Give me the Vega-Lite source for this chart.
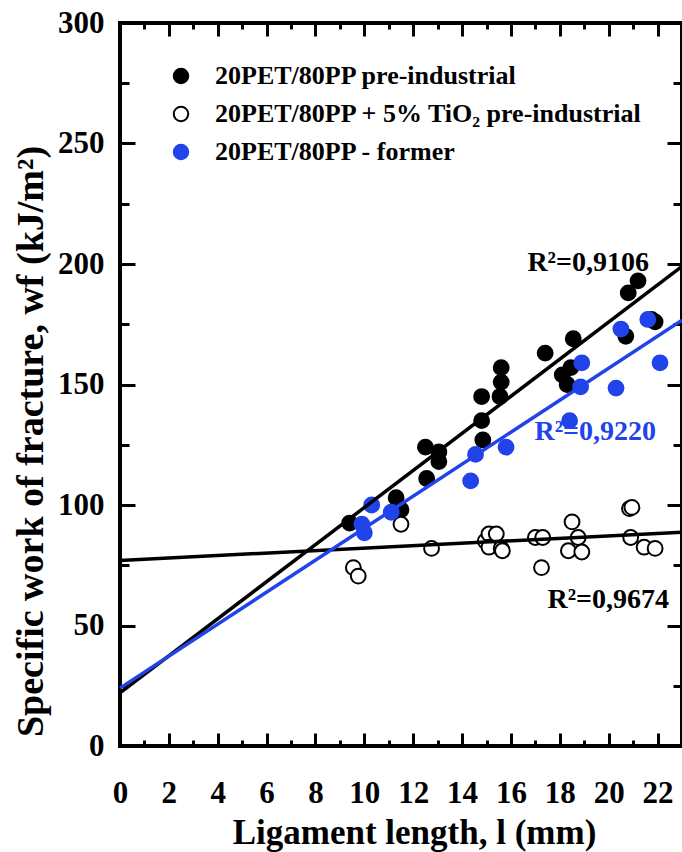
{
  "$schema": "https://vega.github.io/schema/vega-lite/v6.json",
  "width": 562,
  "height": 723,
  "autosize": {"type": "none"},
  "padding": {"left": 120, "top": 23, "right": 0, "bottom": 106},
  "background": "white",
  "config": {
    "view": {"stroke": "black", "strokeWidth": 4},
    "font": "Liberation Serif",
    "axis": {
      "domain": false,
      "tickColor": "black",
      "tickWidth": 3,
      "grid": false,
      "labelFont": "Liberation Serif",
      "labelFontWeight": "bold",
      "labelFontSize": 31,
      "labelColor": "black",
      "labelFlush": false,
      "labelOverlap": false,
      "titleFont": "Liberation Serif",
      "titleFontWeight": "bold",
      "titleFontSize": 35,
      "titleColor": "black"
    },
    "legend": {
      "orient": "none",
      "legendX": 48,
      "legendY": 40,
      "labelFont": "Liberation Serif",
      "labelFontWeight": "bold",
      "labelFontSize": 26,
      "labelColor": "black",
      "labelLimit": 600,
      "symbolType": "circle",
      "symbolSize": 210,
      "symbolStrokeWidth": 2,
      "labelOffset": 21,
      "rowPadding": 12
    }
  },
  "datasets": {
    "pts": [
      {"series": "20PET/80PP pre-industrial", "l": 9.4, "wf": 92.5},
      {"series": "20PET/80PP pre-industrial", "l": 11.3, "wf": 103},
      {"series": "20PET/80PP pre-industrial", "l": 11.5, "wf": 98},
      {"series": "20PET/80PP pre-industrial", "l": 12.5, "wf": 124},
      {"series": "20PET/80PP pre-industrial", "l": 12.55, "wf": 111},
      {"series": "20PET/80PP pre-industrial", "l": 13.05, "wf": 122},
      {"series": "20PET/80PP pre-industrial", "l": 13.05, "wf": 118},
      {"series": "20PET/80PP pre-industrial", "l": 14.8, "wf": 145},
      {"series": "20PET/80PP pre-industrial", "l": 14.8, "wf": 135},
      {"series": "20PET/80PP pre-industrial", "l": 14.85, "wf": 127},
      {"series": "20PET/80PP pre-industrial", "l": 15.6, "wf": 157},
      {"series": "20PET/80PP pre-industrial", "l": 15.6, "wf": 151},
      {"series": "20PET/80PP pre-industrial", "l": 15.55, "wf": 145},
      {"series": "20PET/80PP pre-industrial", "l": 17.4, "wf": 163},
      {"series": "20PET/80PP pre-industrial", "l": 18.1, "wf": 154},
      {"series": "20PET/80PP pre-industrial", "l": 18.3, "wf": 150},
      {"series": "20PET/80PP pre-industrial", "l": 18.45, "wf": 157},
      {"series": "20PET/80PP pre-industrial", "l": 18.55, "wf": 169},
      {"series": "20PET/80PP pre-industrial", "l": 20.7, "wf": 170},
      {"series": "20PET/80PP pre-industrial", "l": 20.8, "wf": 188},
      {"series": "20PET/80PP pre-industrial", "l": 21.2, "wf": 193},
      {"series": "20PET/80PP pre-industrial", "l": 21.75, "wf": 177},
      {"series": "20PET/80PP pre-industrial", "l": 21.9, "wf": 176},
      {"series": "20PET/80PP + 5% TiO₂ pre-industrial", "l": 9.55, "wf": 74},
      {"series": "20PET/80PP + 5% TiO₂ pre-industrial", "l": 9.75, "wf": 70.5},
      {"series": "20PET/80PP + 5% TiO₂ pre-industrial", "l": 11.5, "wf": 92},
      {"series": "20PET/80PP + 5% TiO₂ pre-industrial", "l": 12.75, "wf": 82},
      {"series": "20PET/80PP + 5% TiO₂ pre-industrial", "l": 14.95, "wf": 85},
      {"series": "20PET/80PP + 5% TiO₂ pre-industrial", "l": 15.1, "wf": 88},
      {"series": "20PET/80PP + 5% TiO₂ pre-industrial", "l": 15.4, "wf": 88},
      {"series": "20PET/80PP + 5% TiO₂ pre-industrial", "l": 15.1, "wf": 82.5},
      {"series": "20PET/80PP + 5% TiO₂ pre-industrial", "l": 15.6, "wf": 82},
      {"series": "20PET/80PP + 5% TiO₂ pre-industrial", "l": 15.65, "wf": 81},
      {"series": "20PET/80PP + 5% TiO₂ pre-industrial", "l": 17.0, "wf": 86.5},
      {"series": "20PET/80PP + 5% TiO₂ pre-industrial", "l": 17.3, "wf": 86.5},
      {"series": "20PET/80PP + 5% TiO₂ pre-industrial", "l": 17.25, "wf": 74},
      {"series": "20PET/80PP + 5% TiO₂ pre-industrial", "l": 18.35, "wf": 81},
      {"series": "20PET/80PP + 5% TiO₂ pre-industrial", "l": 18.5, "wf": 93},
      {"series": "20PET/80PP + 5% TiO₂ pre-industrial", "l": 18.75, "wf": 86.5},
      {"series": "20PET/80PP + 5% TiO₂ pre-industrial", "l": 18.9, "wf": 80.5},
      {"series": "20PET/80PP + 5% TiO₂ pre-industrial", "l": 20.85, "wf": 98.5},
      {"series": "20PET/80PP + 5% TiO₂ pre-industrial", "l": 20.95, "wf": 99},
      {"series": "20PET/80PP + 5% TiO₂ pre-industrial", "l": 20.9, "wf": 86.5},
      {"series": "20PET/80PP + 5% TiO₂ pre-industrial", "l": 21.45, "wf": 82.5},
      {"series": "20PET/80PP + 5% TiO₂ pre-industrial", "l": 21.9, "wf": 82},
      {"series": "20PET/80PP - former", "l": 9.9, "wf": 92},
      {"series": "20PET/80PP - former", "l": 10.0, "wf": 88.5},
      {"series": "20PET/80PP - former", "l": 10.3, "wf": 100},
      {"series": "20PET/80PP - former", "l": 11.1, "wf": 97},
      {"series": "20PET/80PP - former", "l": 14.35, "wf": 110},
      {"series": "20PET/80PP - former", "l": 14.55, "wf": 121},
      {"series": "20PET/80PP - former", "l": 15.8, "wf": 124},
      {"series": "20PET/80PP - former", "l": 18.4, "wf": 135},
      {"series": "20PET/80PP - former", "l": 18.85, "wf": 149},
      {"series": "20PET/80PP - former", "l": 18.9, "wf": 159},
      {"series": "20PET/80PP - former", "l": 20.3, "wf": 148.5},
      {"series": "20PET/80PP - former", "l": 20.5, "wf": 173},
      {"series": "20PET/80PP - former", "l": 21.6, "wf": 177},
      {"series": "20PET/80PP - former", "l": 22.1, "wf": 159}
    ],
    "fits": [
      {"series": "20PET/80PP pre-industrial", "l": 0, "wf": 22},
      {"series": "20PET/80PP pre-industrial", "l": 23, "wf": 199},
      {"series": "20PET/80PP + 5% TiO₂ pre-industrial", "l": 0, "wf": 77},
      {"series": "20PET/80PP + 5% TiO₂ pre-industrial", "l": 23, "wf": 88.7},
      {"series": "20PET/80PP - former", "l": 0, "wf": 24},
      {"series": "20PET/80PP - former", "l": 23, "wf": 176.7}
    ],
    "r2": [
      {"series": "20PET/80PP pre-industrial", "l": 19.16, "wf": 200.4, "label": "R²=0,9106"},
      {"series": "20PET/80PP - former", "l": 19.45, "wf": 130.3, "label": "R²=0,9220"},
      {"series": "20PET/80PP + 5% TiO₂ pre-industrial", "l": 19.98, "wf": 60.6, "label": "R²=0,9674"}
    ]
  },
  "resolve": {"axis": {"x": "independent", "y": "independent"}},
  "layer": [
    {
      "data": {"name": "pts"},
      "mark": {"type": "point", "shape": "circle", "size": 220, "strokeWidth": 2, "opacity": 1, "filled": true},
      "encoding": {
        "x": {
          "field": "l", "type": "quantitative",
          "scale": {"domain": [0, 23], "nice": false, "zero": false},
          "axis": {
            "orient": "bottom",
            "offset": -13,
            "values": [0,2,4,6,8,10,12,14,16,18,20,22],
            "tickSize": 13,
            "labelPadding": 32,
            "title": "Ligament length, l (mm)",
            "titleX": 294,
            "titleY": 110,
            "titleAlign": "center",
            "titleBaseline": "alphabetic"
          }
        },
        "y": {
          "field": "wf", "type": "quantitative",
          "scale": {"domain": [0, 300], "nice": false, "zero": false},
          "axis": {
            "orient": "left",
            "offset": -15,
            "values": [0,50,100,150,200,250,300],
            "tickSize": 15,
            "labelPadding": 16,
            "title": "Specific work of fracture, wf (kJ/m²)",
            "titleFontSize": 38,
            "titleAngle": -90,
            "titleX": -93,
            "titleY": 418,
            "titleAlign": "center",
            "titleBaseline": "alphabetic"
          }
        },
        "fill": {
          "field": "series", "type": "nominal",
          "scale": {"domain": ["20PET/80PP pre-industrial", "20PET/80PP + 5% TiO₂ pre-industrial", "20PET/80PP - former"], "range": ["black", "white", "#2143ea"]},
          "legend": {"title": null}
        },
        "stroke": {
          "field": "series", "type": "nominal",
          "scale": {"domain": ["20PET/80PP pre-industrial", "20PET/80PP + 5% TiO₂ pre-industrial", "20PET/80PP - former"], "range": ["black", "black", "#2143ea"]},
          "legend": {"title": null}
        }
      }
    },
    {
      "data": {"name": "fits"},
      "mark": {"type": "line", "strokeWidth": 3.5},
      "encoding": {
        "x": {
          "field": "l", "type": "quantitative",
          "axis": {
            "orient": "top",
            "offset": -13,
            "values": [0,2,4,6,8,10,12,14,16,18,20,22],
            "tickSize": 13,
            "labels": false,
            "title": null
          }
        },
        "y": {
          "field": "wf", "type": "quantitative",
          "axis": {
            "orient": "right",
            "offset": -15,
            "values": [0,50,100,150,200,250,300],
            "tickSize": 15,
            "labels": false,
            "title": null
          }
        },
        "detail": {"field": "series", "type": "nominal"},
        "stroke": {"field": "series", "type": "nominal"}
      }
    },
    {
      "data": {"name": "r2"},
      "transform": [{"filter": "datum.series !== '20PET/80PP - former'"}],
      "mark": {"type": "text", "fontSize": 28, "fontWeight": "bold", "font": "Liberation Serif", "align": "center", "baseline": "middle", "color": "black"},
      "encoding": {
        "x": {
          "field": "l", "type": "quantitative",
          "axis": {
            "orient": "bottom",
            "offset": -6,
            "values": [1,3,5,7,9,11,13,15,17,19,21],
            "tickSize": 6,
            "labels": false,
            "title": null
          }
        },
        "y": {
          "field": "wf", "type": "quantitative",
          "axis": {
            "orient": "left",
            "offset": -9,
            "values": [25,75,125,175,225,275],
            "tickSize": 9,
            "labels": false,
            "title": null
          }
        },
        "text": {"field": "label", "type": "nominal"}
      }
    },
    {
      "data": {"name": "r2"},
      "transform": [{"filter": "datum.series === '20PET/80PP - former'"}],
      "mark": {"type": "text", "fontSize": 28, "fontWeight": "bold", "font": "Liberation Serif", "align": "center", "baseline": "middle", "color": "#2143ea"},
      "encoding": {
        "x": {
          "field": "l", "type": "quantitative",
          "axis": {
            "orient": "top",
            "offset": -6,
            "values": [1,3,5,7,9,11,13,15,17,19,21],
            "tickSize": 6,
            "labels": false,
            "title": null
          }
        },
        "y": {
          "field": "wf", "type": "quantitative",
          "axis": {
            "orient": "right",
            "offset": -9,
            "values": [25,75,125,175,225,275],
            "tickSize": 9,
            "labels": false,
            "title": null
          }
        },
        "text": {"field": "label", "type": "nominal"}
      }
    }
  ]
}
